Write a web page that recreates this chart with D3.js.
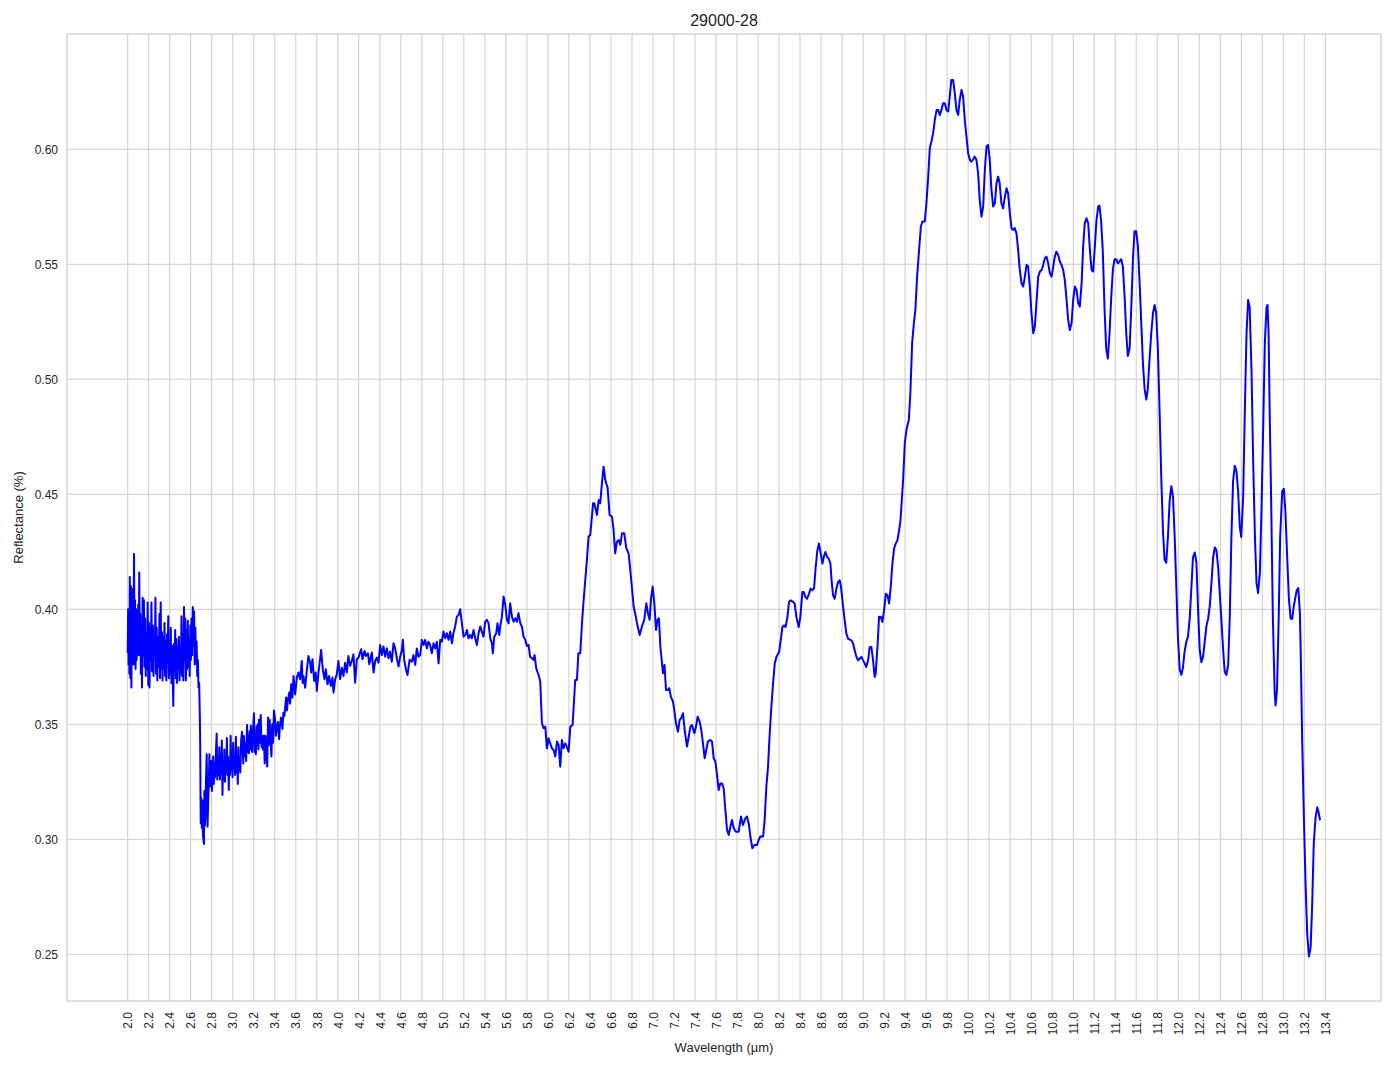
<!DOCTYPE html>
<html>
<head>
<meta charset="utf-8">
<script src="https://cdn.jsdelivr.net/npm/d3@7"></script>
<style>
  html, body { margin: 0; padding: 0; background: #ffffff; }
  svg { display: block; }
  text { font-family: "Liberation Sans", Arial, sans-serif; fill: #262626; }
</style>
</head>
<body>
<svg id="chart" width="1394" height="1069"></svg>
<script>
// ---------------- DATA ----------------
const chartTitle = "29000-28";
const xLabel = "Wavelength (µm)";
const yLabel = "Reflectance (%)";

const xTicks = [2.0,2.2,2.4,2.6,2.8,3.0,3.2,3.4,3.6,3.8,4.0,4.2,4.4,4.6,4.8,5.0,5.2,5.4,5.6,5.8,
  6.0,6.2,6.4,6.6,6.8,7.0,7.2,7.4,7.6,7.8,8.0,8.2,8.4,8.6,8.8,9.0,9.2,9.4,9.6,9.8,
  10.0,10.2,10.4,10.6,10.8,11.0,11.2,11.4,11.6,11.8,12.0,12.2,12.4,12.6,12.8,13.0,13.2,13.4];
const yTicks = [0.25,0.30,0.35,0.40,0.45,0.50,0.55,0.60];

// spectrum segments: [wavelength µm, reflectance]
const segNoisyStart = [
[2.000,0.381],[2.004,0.400],[2.008,0.376],[2.012,0.395],[2.016,0.372],[2.020,0.414],[2.025,0.370],[2.030,0.410],
[2.035,0.366],[2.040,0.405],[2.045,0.380],[2.050,0.409],[2.055,0.376],[2.060,0.424],[2.065,0.385],[2.070,0.404],
[2.075,0.374],[2.080,0.400],[2.085,0.378],[2.090,0.398],[2.095,0.382],[2.100,0.402],[2.105,0.380],[2.110,0.416],
[2.115,0.383],[2.120,0.398],[2.125,0.372],[2.130,0.392],[2.136,0.366],[2.142,0.405],[2.148,0.380],[2.154,0.404],
[2.160,0.375],[2.166,0.396],[2.172,0.371],[2.178,0.390],[2.184,0.374],[2.190,0.403],[2.196,0.367],[2.202,0.394],
[2.208,0.366],[2.214,0.392],[2.220,0.378],[2.226,0.403],[2.232,0.373],[2.240,0.393],[2.246,0.371],[2.252,0.389],
[2.258,0.379],[2.264,0.405],[2.270,0.372],[2.276,0.392],[2.282,0.369],[2.290,0.388],[2.296,0.375],[2.302,0.398],
[2.308,0.370],[2.314,0.403],[2.320,0.374],[2.326,0.390],[2.332,0.369],[2.338,0.388],[2.344,0.374],[2.350,0.394],
[2.356,0.371],[2.362,0.386],[2.368,0.369],[2.374,0.389],[2.380,0.377],[2.386,0.397],[2.392,0.370],[2.398,0.386],
[2.404,0.372],[2.410,0.392],[2.416,0.368],[2.422,0.384],[2.428,0.372],[2.434,0.358],[2.440,0.385],[2.446,0.374],
[2.452,0.391],[2.458,0.370],[2.464,0.387],[2.470,0.368],[2.476,0.383],[2.482,0.374],[2.488,0.388],[2.494,0.369],
[2.500,0.382],[2.506,0.372],[2.512,0.397],[2.518,0.371],[2.524,0.389],[2.530,0.369],[2.536,0.401],[2.542,0.378],
[2.548,0.396],[2.554,0.369],[2.560,0.391],[2.566,0.374],[2.572,0.395],[2.578,0.375],[2.584,0.387],[2.590,0.371],
[2.596,0.393],[2.602,0.378],[2.608,0.396],[2.614,0.380],[2.620,0.401],[2.626,0.384],[2.632,0.399],[2.638,0.376],
[2.644,0.392],[2.650,0.377],[2.656,0.386],[2.662,0.371],[2.668,0.378],[2.674,0.366],[2.680,0.368],[2.686,0.355],
[2.690,0.342],[2.695,0.307]
];

const segDip = [
[2.700,0.318],[2.705,0.305],[2.710,0.317],[2.715,0.303],[2.720,0.300],[2.726,0.298],[2.730,0.321],[2.735,0.306],
[2.740,0.311],[2.745,0.326],[2.752,0.337],[2.760,0.3055],[2.766,0.316],[2.772,0.324],[2.778,0.337],[2.784,0.323],
[2.790,0.331],[2.796,0.334],[2.802,0.321],[2.808,0.330],[2.814,0.336],[2.820,0.324],[2.826,0.333],[2.832,0.327],
[2.840,0.338],[2.847,0.346],[2.853,0.326],[2.860,0.335],[2.866,0.328],[2.872,0.340],[2.878,0.326],[2.884,0.336],
[2.890,0.329],[2.896,0.343],[2.902,0.3193],[2.908,0.333],[2.914,0.326],[2.920,0.339],[2.926,0.325],[2.932,0.334],
[2.938,0.329],[2.944,0.344],[2.950,0.328],[2.956,0.336],[2.962,0.3214],[2.968,0.333],[2.974,0.328],[2.980,0.345],
[2.986,0.330],[2.992,0.338],[2.998,0.327],[3.004,0.342],[3.010,0.331],[3.016,0.337],[3.022,0.328],[3.030,0.3446],
[3.036,0.329],[3.042,0.336],[3.048,0.324],[3.054,0.340],[3.060,0.330],[3.066,0.335],[3.072,0.329],[3.080,0.343],
[3.088,0.3468],[3.094,0.339],[3.100,0.333],[3.106,0.345],[3.112,0.336],[3.120,0.342],[3.128,0.334],[3.136,0.3497],
[3.142,0.338],[3.148,0.345],[3.154,0.3374],[3.160,0.347],[3.166,0.339],[3.172,0.3495],[3.178,0.341],[3.184,0.338],
[3.190,0.346],[3.196,0.350],[3.202,0.3548],[3.208,0.338],[3.214,0.342],[3.220,0.337],[3.226,0.349],[3.232,0.341],
[3.238,0.350],[3.244,0.339],[3.250,0.352],[3.258,0.342],[3.266,0.354],[3.274,0.340],[3.280,0.345],[3.288,0.339],
[3.296,0.345],[3.304,0.333],[3.312,0.345],[3.320,0.338],[3.328,0.3316],[3.336,0.353],[3.344,0.341],[3.352,0.352],
[3.360,0.343],[3.368,0.336],[3.376,0.350],[3.384,0.342],[3.392,0.356]
];

const segRise = [
[3.403,0.352],[3.410,0.345],[3.419,0.348],[3.430,0.351],[3.441,0.3435],[3.450,0.350],[3.460,0.3529],[3.473,0.348],
[3.482,0.355],[3.492,0.3536],[3.500,0.358],[3.508,0.3616],[3.516,0.356],[3.524,0.3601],[3.537,0.3638],[3.546,0.359],
[3.556,0.3674],[3.568,0.3616],[3.578,0.371],[3.594,0.363],[3.610,0.3703],[3.625,0.3725],[3.641,0.3696],[3.657,0.3775],
[3.665,0.368],[3.673,0.371],[3.689,0.3659],[3.705,0.3732],[3.720,0.3797],[3.737,0.3768],[3.746,0.3725],[3.759,0.3783],
[3.775,0.3688],[3.790,0.3725],[3.800,0.3645],[3.816,0.3725],[3.841,0.3823],[3.857,0.3739],[3.873,0.3696],[3.886,0.3739],
[3.902,0.3674],[3.917,0.371],[3.933,0.3667],[3.949,0.3703],[3.959,0.3638],[3.975,0.3696],[3.990,0.3717],[4.006,0.3775],
[4.022,0.3696],[4.038,0.3746],[4.054,0.371],[4.070,0.3768],[4.086,0.3725],[4.100,0.3797],[4.117,0.3754],[4.133,0.3775],
[4.149,0.3804],[4.165,0.3681],[4.181,0.3783],[4.197,0.379],[4.222,0.3826],[4.235,0.3783],[4.254,0.3819],[4.267,0.3797],
[4.286,0.3809],[4.300,0.3761],[4.324,0.3812],[4.340,0.3725],[4.356,0.3775],[4.371,0.379],[4.387,0.3768],[4.403,0.3845]
];

const segPlateau = [
[4.419,0.3801],[4.435,0.3838],[4.451,0.3794],[4.467,0.383],[4.483,0.3787],[4.498,0.3816],[4.514,0.3772],[4.530,0.3852],
[4.546,0.383],[4.562,0.3787],[4.578,0.3751],[4.594,0.3794],[4.610,0.3823],[4.619,0.3867],[4.632,0.378],[4.650,0.3736],
[4.663,0.3714],[4.683,0.378],[4.705,0.3772],[4.720,0.3801],[4.737,0.3758],[4.752,0.383],[4.768,0.3794],[4.784,0.3801],
[4.800,0.3867],[4.816,0.3845],[4.832,0.3867],[4.848,0.383],[4.863,0.3859],[4.879,0.3845],[4.895,0.3809],[4.911,0.3852],
[4.927,0.383],[4.943,0.3859],[4.959,0.3765],[4.975,0.3867],[4.990,0.3859],[5.006,0.3903],[5.022,0.3874],[5.038,0.3896],
[5.054,0.3867],[5.070,0.3903],[5.086,0.3852],[5.100,0.3896],[5.117,0.3925],[5.133,0.3968],[5.149,0.3975],[5.165,0.400],
[5.181,0.3939],[5.197,0.3881],[5.213,0.3888],[5.229,0.391],[5.244,0.3874],[5.260,0.3888],[5.276,0.3874],[5.292,0.391],
[5.308,0.3874],[5.324,0.3845],[5.340,0.3896],[5.356,0.3925],[5.371,0.3903],[5.387,0.3881],[5.403,0.3946],[5.419,0.3954],
[5.435,0.3939],[5.451,0.3874],[5.467,0.3852],[5.476,0.3809],[5.489,0.3881],[5.508,0.3896],[5.520,0.3939],[5.537,0.3888],
[5.546,0.3925],[5.562,0.3968],[5.578,0.4055],[5.594,0.4019],[5.610,0.3954],[5.625,0.3939],[5.641,0.4026],[5.657,0.3968],
[5.673,0.3946],[5.689,0.3961],[5.705,0.3946],[5.720,0.3983],[5.737,0.3939],[5.752,0.3925],[5.768,0.3881],[5.784,0.3867],
[5.800,0.384],[5.816,0.3845],[5.830,0.3794],[5.848,0.3787],[5.863,0.378],[5.873,0.3801],[5.889,0.3743],[5.911,0.3714],
[5.927,0.3686]
];

const segMid = [
[5.943,0.3504],[5.959,0.3483],[5.975,0.349],[5.990,0.3396],[6.006,0.3439],[6.022,0.3417],[6.038,0.3396],[6.054,0.3388],
[6.070,0.336],[6.086,0.3425],[6.102,0.341],[6.117,0.3316],[6.133,0.3432],[6.149,0.3396],[6.165,0.3417],[6.180,0.3403],
[6.197,0.3381],[6.213,0.349],[6.235,0.3497],[6.260,0.3693],[6.276,0.3693],[6.290,0.3809],[6.308,0.3809],[6.324,0.3939],
[6.340,0.404],[6.371,0.4214],[6.387,0.4316],[6.403,0.4323],[6.430,0.4461],[6.441,0.4461],[6.467,0.441],[6.483,0.4475],
[6.498,0.4461],[6.514,0.4548],[6.530,0.462],[6.546,0.4562],[6.555,0.4548],[6.568,0.453],[6.587,0.441],[6.610,0.4403],
[6.625,0.4345],[6.640,0.4243],[6.657,0.4294],[6.673,0.4301],[6.689,0.428],[6.705,0.433],[6.727,0.433],[6.746,0.4265],
[6.768,0.4243],[6.790,0.4142],[6.816,0.4012],[6.830,0.3983],[6.848,0.3939],[6.873,0.3888],[6.895,0.3925],[6.917,0.3954],
[6.937,0.4026],[6.952,0.3983],[6.968,0.3954],[6.980,0.404],[6.997,0.4099],[7.013,0.4026],[7.029,0.391],[7.044,0.3954],
[7.057,0.3961],[7.070,0.3838],[7.086,0.3765],[7.095,0.3722],[7.110,0.3758],[7.124,0.3649],[7.140,0.3649],[7.155,0.3657],
[7.170,0.362],[7.190,0.3599],[7.203,0.3562],[7.219,0.3504],[7.238,0.3468],[7.254,0.3519],[7.267,0.3526],[7.286,0.3548],
[7.302,0.3475],[7.324,0.3403],[7.340,0.3446],[7.356,0.349],[7.371,0.3497],[7.394,0.3461],[7.410,0.349],[7.425,0.3533],
[7.444,0.3512],[7.460,0.3475],[7.476,0.3417],[7.492,0.3352],[7.507,0.3388],[7.523,0.3425],[7.546,0.3432],[7.562,0.3425],
[7.578,0.3352],[7.594,0.3338],[7.610,0.328],[7.625,0.3214],[7.641,0.3243],[7.657,0.3243],[7.673,0.3222],[7.689,0.3128],
[7.705,0.3041],[7.721,0.3019],[7.737,0.3055],[7.752,0.3084],[7.768,0.3048],[7.790,0.3033],[7.816,0.3033],[7.838,0.3099],
[7.857,0.3062],[7.879,0.3091],[7.895,0.3099],[7.914,0.3062],[7.927,0.3012],[7.946,0.2961],[7.965,0.2975],[7.990,0.2975],
[8.006,0.2997],[8.022,0.3012],[8.048,0.3012],[8.063,0.3083],[8.079,0.3228],[8.095,0.3314],[8.111,0.3459],[8.127,0.3575],
[8.143,0.3677],[8.159,0.3764],[8.175,0.3793],[8.200,0.3814]
];

const segSecond = [
[8.216,0.3865],[8.232,0.3923],[8.248,0.393],[8.263,0.3923],[8.280,0.3967],[8.295,0.4032],[8.310,0.4039],[8.333,0.4032],
[8.349,0.4025],[8.365,0.3967],[8.387,0.3923],[8.403,0.3967],[8.422,0.4075],[8.435,0.4075],[8.450,0.4054],[8.467,0.4046],
[8.486,0.4068],[8.500,0.409],[8.517,0.4083],[8.533,0.409],[8.549,0.4184],[8.565,0.4257],[8.580,0.4286],[8.597,0.4242],
[8.613,0.4199],[8.630,0.4235],[8.641,0.4249],[8.657,0.4228],[8.673,0.422],[8.689,0.4199],[8.700,0.4126],[8.714,0.4061],
[8.730,0.4046],[8.746,0.409],[8.762,0.4119],[8.778,0.4126],[8.790,0.4097],[8.810,0.401],[8.825,0.3952],[8.841,0.3894],
[8.857,0.3872],[8.873,0.3868],[8.889,0.3865],[8.905,0.3851],[8.920,0.3822],[8.937,0.3793],[8.952,0.3778],[8.968,0.3786],
[8.984,0.3793],[9.000,0.3778],[9.016,0.3764],[9.030,0.3749],[9.048,0.3778],[9.063,0.3836],[9.079,0.3836],[9.095,0.3778],
[9.110,0.3706],[9.120,0.3720],[9.137,0.3836],[9.152,0.3967],[9.168,0.3967],[9.184,0.3945],[9.200,0.3996],[9.216,0.4068],
[9.232,0.4061],[9.248,0.4025],[9.263,0.4097],[9.279,0.4199],[9.295,0.4264],[9.311,0.4286],[9.327,0.430],[9.343,0.4343],
[9.356,0.4387]
];

const segPeak = [
[9.381,0.4562],[9.397,0.4722],[9.413,0.478],[9.435,0.4823],[9.450,0.4939],[9.467,0.5157],[9.483,0.5243],[9.498,0.5301],
[9.514,0.5446],[9.533,0.5562],[9.550,0.5664],[9.565,0.5686],[9.587,0.5686],[9.603,0.5765],[9.620,0.5881],[9.635,0.6004],
[9.650,0.6033],[9.667,0.607],[9.683,0.6128],[9.700,0.6171],[9.714,0.6171],[9.730,0.6149],[9.746,0.6171],[9.762,0.620],
[9.778,0.620],[9.794,0.6171],[9.810,0.6164],[9.825,0.6229],[9.840,0.6301],[9.857,0.6301],[9.873,0.6243],[9.889,0.6171],
[9.905,0.6149],[9.920,0.6214],[9.937,0.6258],[9.952,0.6229],[9.968,0.6128],[9.984,0.6055],[10.000,0.5983],[10.016,0.5954],
[10.030,0.5946],[10.048,0.5956],[10.063,0.5968],[10.079,0.5954],[10.095,0.5896],[10.110,0.578],[10.127,0.5707],[10.143,0.5751],
[10.159,0.591],[10.175,0.6012],[10.190,0.6019],[10.206,0.5954],[10.222,0.5823],[10.238,0.5751],[10.254,0.5765],[10.270,0.5852],
[10.286,0.5881],[10.300,0.5852],[10.317,0.5765],[10.333,0.5743],[10.350,0.5794],[10.365,0.583],[10.380,0.5809],[10.397,0.5722],
[10.413,0.5657],[10.430,0.5649],[10.444,0.5657],[10.460,0.5635],[10.476,0.5562],[10.490,0.5483],[10.508,0.5417],[10.524,0.5403],
[10.540,0.5446],[10.556,0.5497],[10.571,0.549],[10.587,0.5403],[10.603,0.5287],[10.620,0.520],[10.635,0.5229],[10.650,0.533],
[10.667,0.5446],[10.683,0.5468],[10.700,0.5475],[10.714,0.5497],[10.730,0.5526],[10.746,0.5533],[10.762,0.5504],[10.778,0.5461],
[10.794,0.5446],[10.810,0.549],[10.825,0.5533],[10.840,0.5555],[10.857,0.554],[10.873,0.5512],[10.889,0.5497],[10.905,0.5475],
[10.920,0.5432],[10.937,0.5345],[10.952,0.5258],[10.968,0.5214],[10.984,0.5243],[11.000,0.5345],[11.016,0.5403],[11.032,0.5388],
[11.048,0.533],[11.063,0.5316],[11.080,0.5417],[11.095,0.5577],[11.110,0.5678],[11.127,0.570],[11.143,0.5678],[11.159,0.5562],
[11.175,0.5475],[11.190,0.5468],[11.206,0.5577],[11.222,0.5693],[11.238,0.5751],[11.250,0.5755]
];

const segTail = [
[11.266,0.5688],[11.282,0.5555],[11.298,0.5312],[11.314,0.5134],[11.330,0.509],[11.346,0.520],[11.362,0.5356],[11.378,0.5478],
[11.394,0.5522],[11.410,0.5522],[11.425,0.5504],[11.441,0.5513],[11.457,0.5522],[11.473,0.5489],[11.490,0.5356],[11.505,0.520],
[11.520,0.5101],[11.537,0.5134],[11.553,0.5312],[11.570,0.5533],[11.584,0.5644],[11.600,0.5644],[11.616,0.5578],[11.632,0.5422],
[11.648,0.5245],[11.664,0.5068],[11.680,0.4957],[11.696,0.4912],[11.710,0.4957],[11.727,0.509],[11.743,0.520],[11.760,0.5289],
[11.775,0.5323],[11.790,0.5289],[11.806,0.5134],[11.822,0.4868],[11.838,0.458],[11.855,0.4336],[11.870,0.4214],[11.886,0.4203],
[11.902,0.4314],[11.918,0.4469],[11.934,0.4535],[11.950,0.4491],[11.966,0.4314],[11.982,0.4092],[11.998,0.387],[12.014,0.3737],
[12.030,0.3715],[12.045,0.3748],[12.060,0.3815],[12.077,0.3859],[12.093,0.3881],[12.109,0.3959],[12.125,0.4092],[12.140,0.4225],
[12.157,0.4247],[12.173,0.4203],[12.190,0.3981],[12.204,0.3826],[12.220,0.377],[12.236,0.3793],[12.252,0.3859],[12.268,0.3926],
[12.284,0.3959],[12.300,0.4014],[12.316,0.4114],[12.332,0.4225],[12.348,0.4269],[12.363,0.4258],[12.380,0.4181],[12.395,0.407],
[12.410,0.3959],[12.427,0.3826],[12.443,0.3726],[12.459,0.3715],[12.475,0.3759],[12.490,0.3959],[12.506,0.4314],[12.522,0.4558],
[12.538,0.4624],[12.554,0.4602],[12.570,0.4513],[12.586,0.4358],[12.600,0.4314],[12.618,0.4491],[12.634,0.4868],[12.650,0.520],
[12.665,0.5345],[12.680,0.5312],[12.697,0.5045],[12.713,0.4646],[12.730,0.4314],[12.745,0.4114],[12.760,0.407],[12.777,0.4159],
[12.793,0.4447],[12.810,0.4824],[12.824,0.5156],[12.840,0.5312],[12.850,0.5323],[12.860,0.520],[12.870,0.4868],[12.886,0.4425],
[12.900,0.3981],[12.917,0.3649],[12.926,0.3582],[12.940,0.3649],[12.957,0.3981],[12.970,0.4314],[12.990,0.4513],[13.005,0.4524],
[13.020,0.4425],[13.037,0.4225],[13.053,0.4048],[13.070,0.3959],[13.085,0.3959],[13.100,0.4014],[13.127,0.4081],[13.143,0.4092],
[13.158,0.3981],[13.168,0.3759],[13.180,0.3427],[13.196,0.3094],[13.212,0.2806],[13.228,0.2584],[13.244,0.2491],[13.260,0.2529],
[13.275,0.2717],[13.290,0.2983],[13.307,0.3094],[13.323,0.3139],[13.336,0.3117],[13.350,0.3083]
];

const spectrum = [].concat(segNoisyStart, segDip, segRise, segPlateau, segMid, segSecond, segPeak, segTail);

// ---------------- LAYOUT ----------------
const W = 1394, H = 1069;
const plot = { left: 67, right: 1381, top: 34, bottom: 1001 };

const svg = d3.select("#chart");

const x = d3.scaleLinear().domain([1.4222, 13.930]).range([plot.left, plot.right]);
const y = d3.scaleLinear().domain([0.2297, 0.6501]).range([plot.bottom, plot.top]);

const gridColor = "#cccccc";

// background
svg.append("rect").attr("x", 0).attr("y", 0).attr("width", W).attr("height", H).attr("fill", "#ffffff");

// grid lines
const gGrid = svg.append("g");
gGrid.selectAll("line.vx").data(xTicks).enter().append("line")
  .attr("x1", d => x(d)).attr("x2", d => x(d))
  .attr("y1", plot.top).attr("y2", plot.bottom)
  .attr("stroke", gridColor).attr("stroke-width", 1);
gGrid.selectAll("line.hy").data(yTicks).enter().append("line")
  .attr("x1", plot.left).attr("x2", plot.right)
  .attr("y1", d => y(d)).attr("y2", d => y(d))
  .attr("stroke", gridColor).attr("stroke-width", 1);

// the spectrum line
const line = d3.line().x(d => x(d[0])).y(d => y(d[1]));
svg.append("path")
  .datum(spectrum)
  .attr("d", line)
  .attr("fill", "none")
  .attr("stroke", "#0000ff")
  .attr("stroke-width", 2)
  .attr("stroke-linejoin", "round");

// spines
svg.append("rect")
  .attr("x", plot.left).attr("y", plot.top)
  .attr("width", plot.right - plot.left).attr("height", plot.bottom - plot.top)
  .attr("fill", "none").attr("stroke", gridColor).attr("stroke-width", 1.25);

// x axis
const xAxis = d3.axisBottom(x).tickValues(xTicks).tickSize(0).tickFormat(d => d.toFixed(1));
const gx = svg.append("g").attr("transform", `translate(0,${plot.bottom})`).call(xAxis);
gx.select(".domain").remove();
gx.selectAll("text")
  .attr("transform", "rotate(-90)")
  .attr("x", -11).attr("y", 0).attr("dy", "0.35em")
  .attr("text-anchor", "end")
  .style("font-size", "12px")
  .style("font-family", "'Liberation Sans', Arial, sans-serif")
  .attr("fill", "#262626");

// y axis
const yAxis = d3.axisLeft(y).tickValues(yTicks).tickSize(0).tickPadding(9).tickFormat(d => d.toFixed(2));
const gy = svg.append("g").attr("transform", `translate(${plot.left},0)`).call(yAxis);
gy.select(".domain").remove();
gy.selectAll("text")
  .style("font-size", "12px")
  .style("font-family", "'Liberation Sans', Arial, sans-serif")
  .attr("fill", "#262626");

// title and labels
svg.append("text")
  .attr("x", (plot.left + plot.right) / 2).attr("y", 26)
  .attr("text-anchor", "middle")
  .style("font-size", "16px")
  .text(chartTitle);

svg.append("text")
  .attr("x", (plot.left + plot.right) / 2).attr("y", 1052)
  .attr("text-anchor", "middle")
  .style("font-size", "13px")
  .text(xLabel);

svg.append("text")
  .attr("transform", `translate(23,${(plot.top + plot.bottom) / 2}) rotate(-90)`)
  .attr("text-anchor", "middle")
  .style("font-size", "13px")
  .text(yLabel);
</script>
</body>
</html>
